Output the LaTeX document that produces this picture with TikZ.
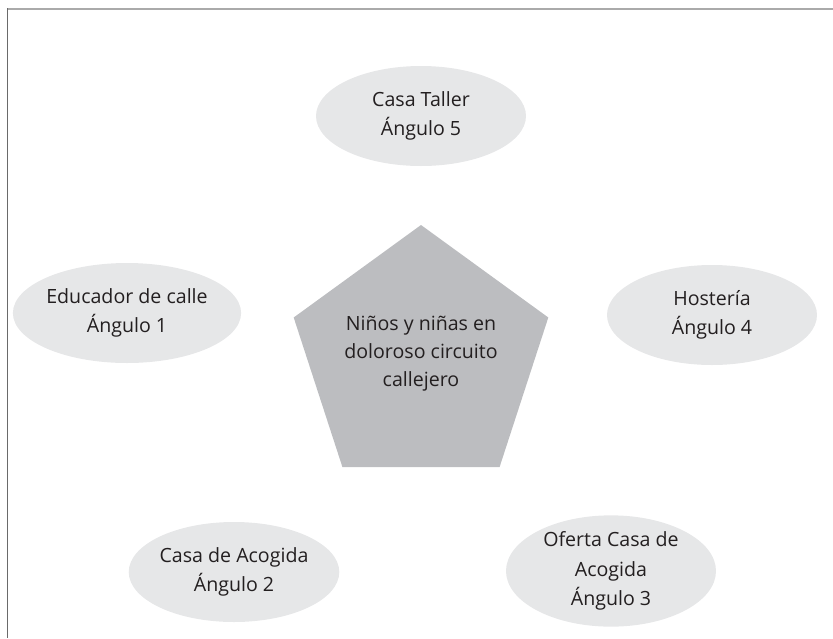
\documentclass[tikz,border=0pt]{standalone}
\usepackage{fontspec}
\setmainfont{Open Sans}
\usetikzlibrary{shapes.geometric}
\definecolor{ellfill}{HTML}{E6E7E8}
\definecolor{pentfill}{HTML}{BCBDC0}
\definecolor{txt}{HTML}{231F20}
\definecolor{topline}{HTML}{AAAAAA}
\definecolor{leftline}{HTML}{6A6A6A}
\tikzset{
  oval/.style={ellipse, fill=ellfill, draw=none, inner sep=0pt,
    minimum width=210pt, minimum height=100pt, align=center,
    text=txt, font=\fontsize{19.6}{29.5}\selectfont},
  centertext/.style={align=center, text=txt, inner sep=0pt,
    font=\fontsize{19.6}{28}\selectfont}
}
\begin{document}
\begin{tikzpicture}[x=1pt,y=-1pt]
\useasboundingbox (0,0) rectangle (833,638);
% frame
\draw[topline, line width=2pt] (7,9) -- (833,9);
\draw[leftline, line width=1.5pt] (7.5,8) -- (7.5,638);
% pentagon
\fill[pentfill] (421,225) -- (548.3,317.5) -- (499.6,467) -- (342.4,467) -- (293.7,317.5) -- cycle;
\node[centertext] (center) at (421,354) {Niños y niñas en\\doloroso circuito\\callejero};
% ellipses
\node[oval] (a5) at (421,116) {Casa Taller\\Ángulo 5};
\node[oval] (a1) at (127,313) {Educador de calle\\Ángulo 1};
\node[oval] (a4) at (712,315) {Hostería\\Ángulo 4};
\node[oval] (a2) at (234,572) {Casa de Acogida\\Ángulo 2};
\node[oval, minimum height=104pt] (a3) at (611,571) {Oferta Casa de\\Acogida\\Ángulo 3};
\end{tikzpicture}
\end{document}
